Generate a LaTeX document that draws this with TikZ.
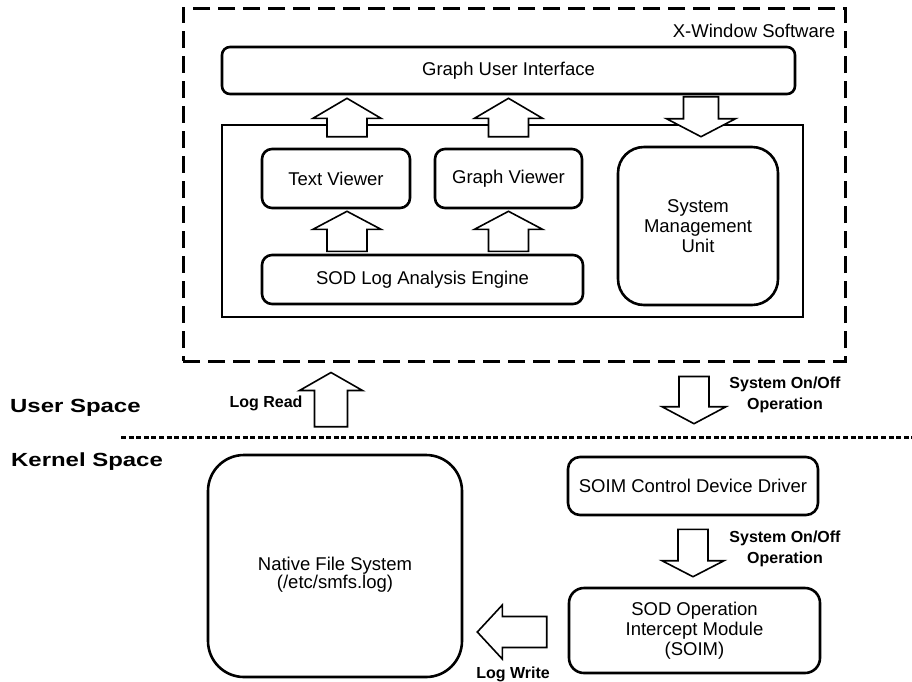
\documentclass[tikz,border=0pt]{standalone}
\usepackage{fontspec}
\usepackage{graphicx}
\setmainfont{Liberation Sans}
\usetikzlibrary{calc}

% Vertical block arrow: tail, tip, shaft half-width, head half-width, head length
\newcommand\vblockarrow[5]{%
  \draw[blockarrow] let \p1=#1, \p2=#2, \p3=($(\x1,\y2)!#5!(\p1)$) in
    ({\x1-#3},\y1) -- ({\x1-#3},\y3) -- ({\x1-#4},\y3) -- (\x1,\y2)
    -- ({\x1+#4},\y3) -- ({\x1+#3},\y3) -- ({\x1+#3},\y1) -- cycle;}
% Horizontal block arrow: tail, tip, shaft half-height, head half-height, head length
\newcommand\hblockarrow[5]{%
  \draw[blockarrow] let \p1=#1, \p2=#2, \p3=($(\x2,\y1)!#5!(\p1)$) in
    (\x1,{\y1-#3}) -- (\x3,{\y1-#3}) -- (\x3,{\y1-#4}) -- (\x2,\y1)
    -- (\x3,{\y1+#4}) -- (\x3,{\y1+#3}) -- (\x1,{\y1+#3}) -- cycle;}

\begin{document}
\begin{tikzpicture}[x=1pt,y=-1pt,
  box/.style={draw, line width=2.6pt, inner sep=0pt, align=center,
    font=\fontsize{18.5}{20}\selectfont},
  frame/.style={draw, line width=2.6pt, inner sep=0pt},
  swframe/.style={draw, line width=3pt, dash pattern=on 17pt off 8pt, inner sep=0pt},
  blockarrow/.style={draw, fill=white, line width=1.6pt, line join=miter},
  divider/.style={line width=3pt, dash pattern=on 5pt off 2.6pt},
  lbl/.style={inner sep=0pt, align=center, font=\fontsize{16}{21}\bfseries\selectfont},
  spacelbl/.style={inner sep=0pt, anchor=west, font=\fontsize{19}{22}\bfseries\selectfont},
  plain/.style={inner sep=0pt, font=\fontsize{18.5}{20}\selectfont}]

\useasboundingbox (0,0) rectangle (912,681);

% X-Window software part (user space)
\node[swframe, minimum width=662pt, minimum height=353pt] (xwin) at (514,184.5) {};
\node[plain, anchor=east] (xwinlbl) at ($(xwin.north east)+(-11,24)$) {X-Window Software};

\node[box, rounded corners=8pt, minimum width=573pt, minimum height=47pt] (gui) at (508.5,70.5) {Graph User Interface};
\node[frame, minimum width=581pt, minimum height=192pt] (inner) at (512.5,221) {};
\node[box, rounded corners=10pt, minimum width=148pt, minimum height=59pt] (tv) at (336,178.5) {Text Viewer};
\node[box, rounded corners=10pt, minimum width=147pt, minimum height=59pt] (gv) at (508.5,178.5) {Graph Viewer};
\node[box, rounded corners=10pt, minimum width=321pt, minimum height=49pt] (sod) at (422.5,279.5) {SOD Log Analysis Engine};
\node[box, rounded corners=26pt, minimum width=160pt, minimum height=158pt] (smu) at (698,226) {System\\Management\\Unit};

% Kernel space part
\node[box, rounded corners=36pt, minimum width=254pt, minimum height=222pt, font=\fontsize{18.5}{18}\selectfont] (nfs) at (335,566) {\\[13pt]Native File System\\(/etc/smfs.log)};
\node[box, rounded corners=12pt, minimum width=250pt, minimum height=58pt] (drv) at (693,486) {SOIM Control Device Driver};
\node[box, rounded corners=15pt, minimum width=251pt, minimum height=85pt] (soim) at (694.5,630.5) {SOD Operation\\Intercept Module\\(SOIM)};

% User / kernel boundary
\coordinate (divL) at (121,437);
\coordinate (divR) at (912,437);
\draw[divider] (divL) -- (divR);
\node[spacelbl] (uspace) at (10,408) {\scalebox{1.26}[1]{User Space}};
\node[spacelbl] (kspace) at (11,462) {\scalebox{1.26}[1]{Kernel Space}};

% Data flow inside the X-Window software
\vblockarrow{($(tv.north)+(11,-11)$)}{($(gui.south)+(0,3)$)}{20pt}{34pt}{20pt}
\vblockarrow{($(gv.north)+(0,-11)$)}{($(gui.south)+(0,3)$)}{20pt}{34pt}{20pt}
\vblockarrow{($(tv.south)+(11,42)$)}{($(tv.south)+(0,2)$)}{20pt}{34pt}{18pt}
\vblockarrow{($(gv.south)+(0,42)$)}{($(gv.south)+(0,2)$)}{20pt}{34pt}{18pt}
\vblockarrow{($(smu.north)+(3,-49)$)}{($(smu.north)+(3,-9)$)}{17.5pt}{34.5pt}{18pt}

% Flows across the boundary
\vblockarrow{($(nfs.north)+(-4,-27)$)}{($(xwin.south)+(0,10)$)}{16.5pt}{31.5pt}{18pt}
\node[lbl] (logread) at (266,403) {Log Read};
\vblockarrow{($(xwin.south)+(180,14)$)}{($(drv.north)+(0,-32)$)}{15pt}{32pt}{17pt}
\node[lbl] (onoff1) at (785,395) {System On/Off\\Operation};

% Flows inside the kernel
\vblockarrow{($(drv.south)+(0,13)$)}{($(soim.north)+(0,-10)$)}{15pt}{31pt}{16pt}
\node[lbl] (onoff2) at (785,549) {System On/Off\\Operation};
\hblockarrow{($(soim.west)+(-21,1.5)$)}{($(nfs.east)+(14,1.5)$)}{15.5pt}{27pt}{25pt}
\node[lbl] (logwrite) at (513,674) {Log Write};

\end{tikzpicture}
\end{document}
